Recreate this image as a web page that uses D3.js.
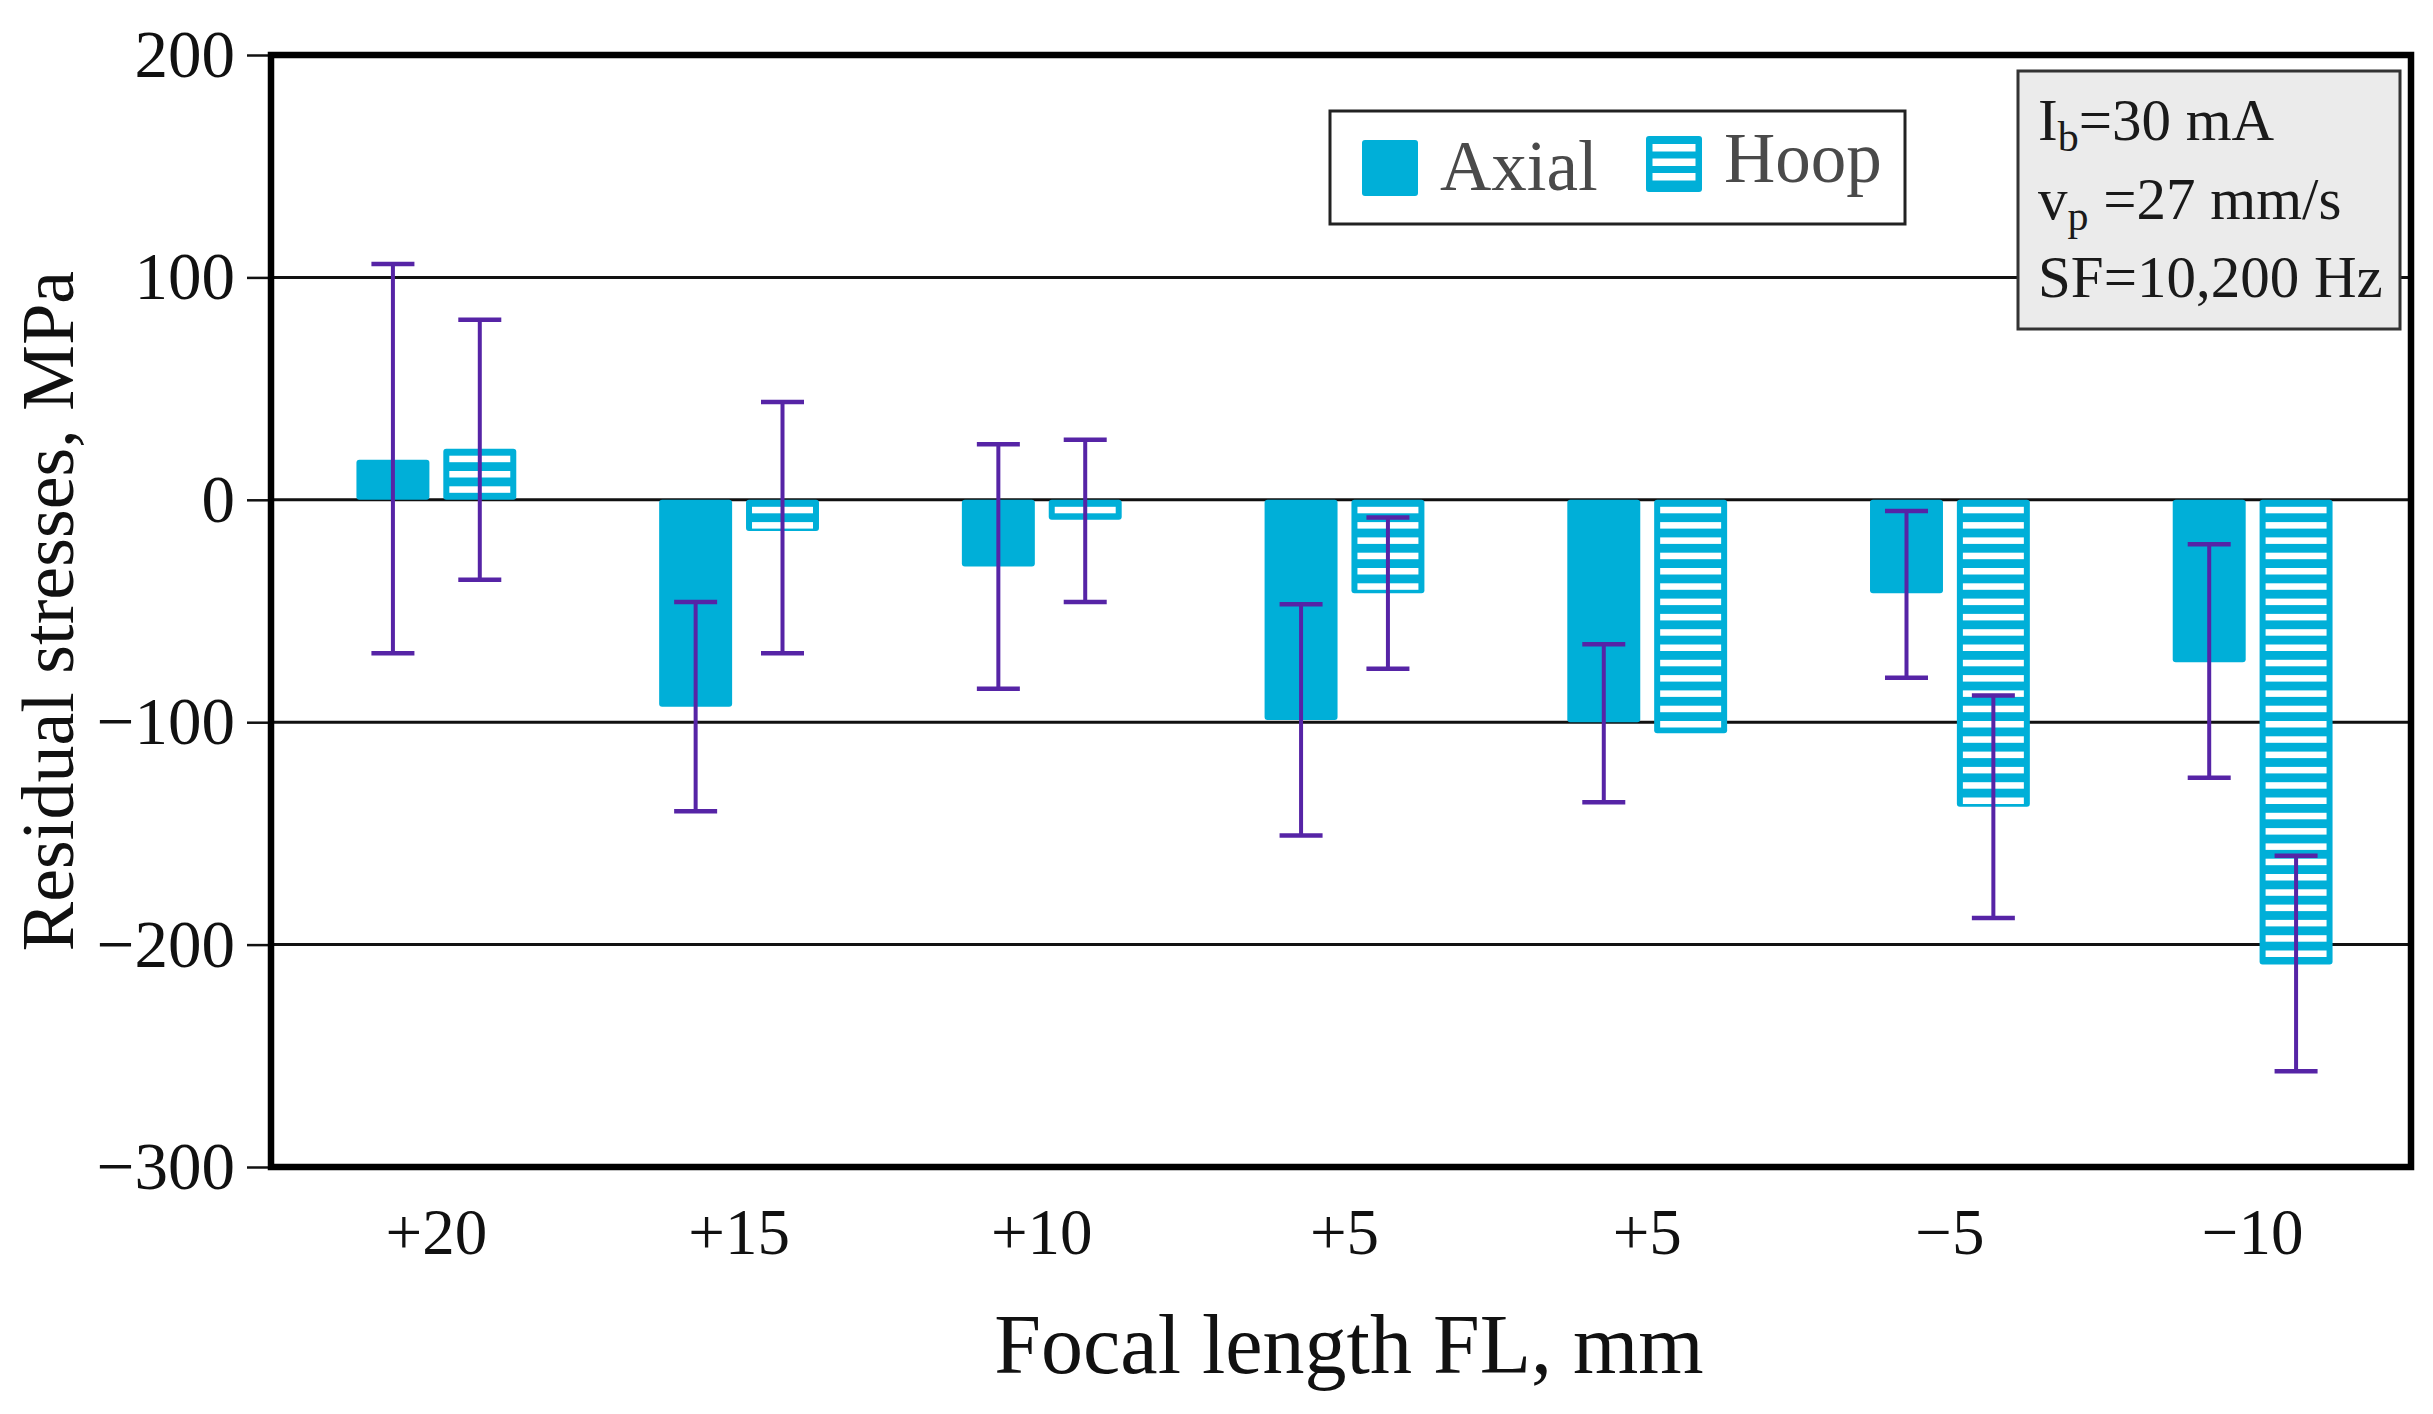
<!DOCTYPE html>
<html>
<head>
<meta charset="utf-8">
<script src="https://cdn.jsdelivr.net/npm/d3@7"></script>
<style>
  body { margin: 0; background: #fff; }
  svg { display: block; }
</style>
</head>
<body>
<div id="chart"></div>
<script>
// data (MPa)
const categories = ['+20', '+15', '+10', '+5', '+5', '\u22125', '\u221210']
const axial = [18, -93, -30, -99, -100, -42, -73]
const hoop = [23, -14, -9, -42, -105, -138, -209]
const axialErrHigh = [106, -46, 25, -47, -65, -5, -20]
const axialErrLow = [-69, -140, -85, -151, -136, -80, -125]
const hoopErrHigh = [81, 44, 27, -8, null, -88, -160]
const hoopErrLow = [-36, -69, -46, -76, null, -188, -257]
const yTicks = [200, 100, 0, -100, -200, -300]
const gridValues = [100, 0, -100, -200]
const seriesNames = ['Axial', 'Hoop']

const width = 2433, height = 1414
const cyan = '#00afd8', purple = '#5624a6'
const font = '"Liberation Serif", "Times New Roman", serif'
const plot = {left: 271, right: 2411}

const svg = d3.select('#chart').append('svg')
  .attr('width', width).attr('height', height)
  .style('background', '#fff')

// scales
const y = d3.scaleLinear().domain([-300, 200]).range([1167, 55])
const x0 = d3.scaleBand().domain(d3.range(categories.length))
  .range([285, 2404]).paddingInner(0.472).paddingOuter(0.236)
const x1 = d3.scaleBand().domain(['axial', 'hoop'])
  .range([0, x0.bandwidth()]).paddingInner(0.16)

// grid lines
svg.append('g').selectAll('line').data(gridValues).enter().append('line')
  .attr('x1', plot.left).attr('x2', plot.right)
  .attr('y1', d => y(d)).attr('y2', d => y(d))
  .attr('stroke', '#111').attr('stroke-width', 3)

// rows: one per category with both series
const rows = categories.map((c, i) => ({
  i: i,
  axial: axial[i], hoop: hoop[i],
  aHi: axialErrHigh[i], aLo: axialErrLow[i],
  hHi: hoopErrHigh[i], hLo: hoopErrLow[i]
}))

const groups = svg.append('g').selectAll('g').data(rows).enter().append('g')
  .attr('transform', d => 'translate(' + x0(d.i) + ',0)')

// axial bars - solid
groups.append('rect')
  .attr('x', x1('axial'))
  .attr('y', d => y(Math.max(0, d.axial)))
  .attr('width', x1.bandwidth())
  .attr('height', d => Math.abs(y(d.axial) - y(0)))
  .attr('rx', 3)
  .attr('fill', cyan)

// hoop bars - cyan frame with white horizontal stripes
groups.append('rect')
  .attr('x', x1('hoop'))
  .attr('y', d => y(Math.max(0, d.hoop)))
  .attr('width', x1.bandwidth())
  .attr('height', d => Math.abs(y(d.hoop) - y(0)))
  .attr('rx', 3)
  .attr('fill', cyan)

const inset = 6, stripeH = 6.5, stripeStep = 15.3
groups.each(function(d) {
  const len = Math.abs(y(d.hoop) - y(0))
  const dir = d.hoop < 0 ? 1 : -1
  const offs = d3.range(7, len - stripeH - 2, stripeStep)
  d3.select(this).selectAll('.stripe').data(offs).enter().append('rect')
    .attr('class', 'stripe')
    .attr('x', x1('hoop') + inset)
    .attr('width', x1.bandwidth() - 2 * inset)
    .attr('y', o => dir > 0 ? y(0) + o : y(0) - o - stripeH)
    .attr('height', stripeH)
    .attr('fill', '#fff')
})

// error bars
const capW = 43
function errorBar(sel, key, hiKey, loKey) {
  const g = sel.filter(d => d[hiKey] != null).append('g')
    .attr('stroke', purple)
  const cx = x1(key) + x1.bandwidth() / 2
  g.append('line').attr('x1', cx).attr('x2', cx)
    .attr('y1', d => y(d[hiKey])).attr('y2', d => y(d[loKey]))
    .attr('stroke-width', 4)
  g.append('line').attr('x1', cx - capW / 2).attr('x2', cx + capW / 2)
    .attr('y1', d => y(d[hiKey])).attr('y2', d => y(d[hiKey]))
    .attr('stroke-width', 4.5)
  g.append('line').attr('x1', cx - capW / 2).attr('x2', cx + capW / 2)
    .attr('y1', d => y(d[loKey])).attr('y2', d => y(d[loKey]))
    .attr('stroke-width', 4.5)
}
errorBar(groups, 'axial', 'aHi', 'aLo')
errorBar(groups, 'hoop', 'hHi', 'hLo')

// y axis
const yAxis = svg.append('g')
  .attr('transform', 'translate(' + plot.left + ',0)')
  .call(d3.axisLeft(y).tickValues(yTicks).tickSize(24).tickPadding(12))
yAxis.select('.domain').remove()
yAxis.selectAll('line').attr('stroke', '#111').attr('stroke-width', 2.5)
yAxis.selectAll('text')
  .attr('font-family', font).attr('font-size', 67).attr('fill', '#111')

// x axis labels
const xAxis = svg.append('g')
  .attr('transform', 'translate(0,' + y(-300) + ')')
  .call(d3.axisBottom(x0).tickFormat(i => categories[i]).tickSize(0).tickPadding(0))
xAxis.select('.domain').remove()
xAxis.selectAll('text')
  .attr('font-family', font).attr('font-size', 65).attr('fill', '#111')
  .attr('dy', null).attr('y', 87)

// plot frame
svg.append('rect')
  .attr('x', plot.left).attr('y', y(200))
  .attr('width', plot.right - plot.left).attr('height', y(-300) - y(200))
  .attr('fill', 'none').attr('stroke', '#000').attr('stroke-width', 6.5)

// axis titles
svg.append('text')
  .attr('transform', 'translate(73,' + (y(200) + y(-300)) / 2 + ') rotate(-90)')
  .attr('text-anchor', 'middle')
  .attr('font-family', font).attr('font-size', 74).attr('fill', '#111')
  .text('Residual stresses, MPa')

svg.append('text')
  .attr('x', (plot.left + plot.right) / 2 + 8).attr('y', 1373)
  .attr('text-anchor', 'middle')
  .attr('font-family', font).attr('font-size', 84).attr('fill', '#111')
  .text('Focal length FL, mm')

// legend
const legend = svg.append('g').attr('transform', 'translate(1330,111)')
legend.append('rect').attr('width', 575).attr('height', 113)
  .attr('fill', '#fff').attr('stroke', '#222').attr('stroke-width', 3)
const items = legend.selectAll('.legends').data(seriesNames).enter().append('g')
  .classed('legends', true)
  .attr('transform', (d, i) => 'translate(' + (i ? 316 : 32) + ',' + (i ? 25 : 29) + ')')
items.append('rect').attr('width', 56).attr('height', 56).attr('rx', 3).attr('fill', cyan)
items.filter(d => d === 'Hoop').selectAll('.stripe').data([8, 22.5, 37]).enter().append('rect')
  .attr('x', 6.5).attr('width', 43).attr('y', d => d).attr('height', 7.5).attr('fill', '#fff')
items.append('text')
  .attr('x', 78).attr('y', (d, i) => i ? 46 : 50)
  .attr('font-family', font).attr('font-size', 71).attr('fill', '#4a4a4a')
  .text(d => d)

// parameter box
const info = svg.append('g').attr('transform', 'translate(2018,71)')
info.append('rect').attr('width', 382).attr('height', 258)
  .attr('fill', '#ebebeb').attr('stroke', '#333').attr('stroke-width', 3)
const infoText = info.append('text')
  .attr('font-family', font).attr('font-size', 59).attr('fill', '#1a1a1a')
const l1 = infoText.append('tspan').attr('x', 20).attr('y', 69)
l1.append('tspan').text('I')
l1.append('tspan').attr('font-size', 42).attr('dy', 11).text('b')
l1.append('tspan').attr('dy', -11).text('=30 mA')
const l2 = infoText.append('tspan').attr('x', 20).attr('y', 148)
l2.append('tspan').text('v')
l2.append('tspan').attr('font-size', 42).attr('dy', 11).text('p')
l2.append('tspan').attr('dy', -11).text(' =27 mm/s')
infoText.append('tspan').attr('x', 20).attr('y', 226).text('SF=10,200 Hz')
</script>
</body>
</html>
